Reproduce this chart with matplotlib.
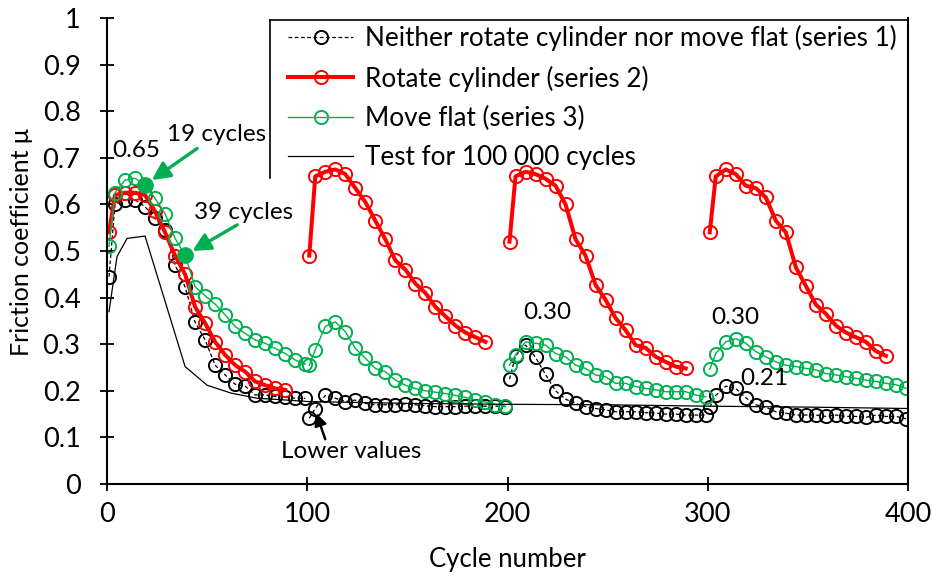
import matplotlib
matplotlib.use("Agg")
import matplotlib.pyplot as plt
import numpy as np
from matplotlib.lines import Line2D

plt.rcParams["font.family"] = ["Lato", "DejaVu Sans"]

# cycle positions inside each 100-cycle block
BLOCK_X = [1, 4, 9, 14, 19, 24, 29, 34, 39, 44, 49, 54, 59, 64, 69, 74, 79, 84, 89, 94, 99]
RED_X = BLOCK_X[:19]
BLOCK_START = [0, 100, 200, 300]

# series 1: neither rotate cylinder nor move flat
s1_blocks = [
    [0.445, 0.600, 0.610, 0.610, 0.595, 0.570, 0.545, 0.470, 0.423, 0.347, 0.309,
     0.255, 0.234, 0.214, 0.210, 0.191, 0.191, 0.188, 0.186, 0.184, 0.184],
    [0.141, 0.162, 0.190, 0.184, 0.177, 0.180, 0.173, 0.170, 0.170, 0.170, 0.172,
     0.170, 0.168, 0.166, 0.166, 0.166, 0.167, 0.167, 0.167, 0.167, 0.166],
    [0.225, 0.275, 0.298, 0.272, 0.235, 0.200, 0.182, 0.173, 0.166, 0.162, 0.159,
     0.155, 0.155, 0.155, 0.153, 0.152, 0.150, 0.150, 0.148, 0.148, 0.148],
    [0.165, 0.190, 0.210, 0.205, 0.185, 0.170, 0.165, 0.155, 0.152, 0.148, 0.148,
     0.148, 0.145, 0.148, 0.145, 0.145, 0.143, 0.148, 0.145, 0.145, 0.140],
]
# series 2: rotate cylinder
s2_blocks = [
    [0.54, 0.62, 0.625, 0.625, 0.62, 0.585, 0.54, 0.49, 0.45, 0.38, 0.345,
     0.305, 0.277, 0.255, 0.241, 0.22, 0.212, 0.205, 0.202],
    [0.49, 0.66, 0.67, 0.675, 0.665, 0.635, 0.605, 0.565, 0.525, 0.48, 0.46,
     0.43, 0.41, 0.38, 0.36, 0.34, 0.325, 0.315, 0.305],
    [0.52, 0.66, 0.67, 0.665, 0.655, 0.64, 0.60, 0.525, 0.49, 0.427, 0.395,
     0.356, 0.33, 0.298, 0.292, 0.273, 0.262, 0.252, 0.248],
    [0.54, 0.66, 0.675, 0.665, 0.64, 0.635, 0.615, 0.565, 0.54, 0.465, 0.425,
     0.385, 0.365, 0.34, 0.325, 0.315, 0.305, 0.285, 0.275],
]
# series 3: move flat
s3_blocks = [
    [0.51, 0.625, 0.652, 0.656, 0.642, 0.613, 0.58, 0.527, 0.491, 0.423, 0.404,
     0.386, 0.363, 0.338, 0.323, 0.309, 0.302, 0.291, 0.28, 0.266, 0.257],
    [0.255, 0.288, 0.338, 0.348, 0.327, 0.291, 0.27, 0.248, 0.241, 0.223, 0.212,
     0.205, 0.2, 0.197, 0.194, 0.19, 0.186, 0.18, 0.176, 0.17, 0.167],
    [0.255, 0.277, 0.305, 0.302, 0.298, 0.28, 0.273, 0.255, 0.248, 0.234, 0.23,
     0.216, 0.216, 0.209, 0.205, 0.202, 0.198, 0.198, 0.198, 0.191, 0.187],
    [0.246, 0.28, 0.305, 0.312, 0.302, 0.284, 0.273, 0.262, 0.255, 0.252, 0.248,
     0.245, 0.237, 0.234, 0.23, 0.227, 0.223, 0.22, 0.216, 0.213, 0.205],
]
# test for 100 000 cycles
test_x = [1, 5, 10, 19, 39, 50, 62, 75, 90, 100, 150, 200, 250, 300, 350, 400]
test_y = [0.37, 0.488, 0.527, 0.532, 0.252, 0.212, 0.195, 0.184, 0.18, 0.177,
          0.173, 0.171, 0.170, 0.167, 0.165, 0.162]

highlight_cycles = [19, 39]

labels = ["Neither rotate cylinder nor move flat (series 1)", "Rotate cylinder (series 2)",
          "Move flat (series 3)", "Test for 100 000 cycles"]
x_ticks = [0, 100, 200, 300, 400]
y_ticks = [0, 0.1, 0.2, 0.3, 0.4, 0.5, 0.6, 0.7, 0.8, 0.9, 1]
y_tick_labels = ["0", "0.1", "0.2", "0.3", "0.4", "0.5", "0.6", "0.7", "0.8", "0.9", "1"]

RED = "#FF0000"
GREEN = "#00B050"


def join_blocks(xs, blocks):
    """Concatenate per-block data with NaN gaps so segments are not joined."""
    X, Y = [], []
    for start, vals in zip(BLOCK_START, blocks):
        X += [start + x for x in xs] + [np.nan]
        Y += list(vals) + [np.nan]
    return np.array(X), np.array(Y)


fig = plt.figure(figsize=(9.32, 5.81), dpi=100)
ax = fig.add_axes([107 / 932, 97 / 581, 801 / 932, 466 / 581])

x1, y1 = join_blocks(BLOCK_X, s1_blocks)
x2, y2 = join_blocks(RED_X, s2_blocks)
x3, y3 = join_blocks(BLOCK_X, s3_blocks)

mk = dict(marker="o", markersize=9.5, markerfacecolor="none", markeredgewidth=1.4)
h1, = ax.plot(x1, y1, color="black", lw=0.9, ls=(0, (3, 2)), markeredgecolor="black", **mk)
h2, = ax.plot(x2, y2, color=RED, lw=2.9, markeredgecolor=RED, **mk)
h3, = ax.plot(x3, y3, color=GREEN, lw=1.0, markeredgecolor=GREEN, **mk)
h4, = ax.plot(test_x, test_y, color="black", lw=0.9)

hy = [s3_blocks[0][BLOCK_X.index(c)] for c in highlight_cycles]
ax.plot(highlight_cycles, hy, ls="none", marker="o", markersize=11, color=GREEN)

ax.set_xlim(0, 400)
ax.set_ylim(0, 1)
ax.set_xticks(x_ticks)
ax.set_yticks(y_ticks)
ax.set_yticklabels(y_tick_labels)
ax.tick_params(direction="inout", length=10, width=1.3, labelsize=19.5, pad=8)
ax.tick_params(axis="y", pad=14)
ax.spines["top"].set_visible(False)
for s in ["left", "bottom", "right"]:
    ax.spines[s].set_linewidth(1.5)
ax.set_xlabel("Cycle number", fontsize=18.5, labelpad=14)
ax.set_ylabel("Friction coefficient μ", fontsize=18)
ax.yaxis.set_label_coords(-0.092, 0.52)

# legend, its box edges drawn separately
fig.legend([h1, h2, h3, h4], labels, loc="upper left", bbox_to_anchor=(288 / 932, 1 - 25 / 581),
           frameon=False, fontsize=18.8, numpoints=1, handlelength=2.5, handletextpad=0.45,
           labelspacing=0.55, borderpad=0, borderaxespad=0)
fig.lines.append(Line2D([270 / 932, 908 / 932], [1 - 20 / 581, 1 - 20 / 581],
                        transform=fig.transFigure, color="black", lw=1.2))
fig.lines.append(Line2D([270 / 932, 270 / 932], [1 - 20 / 581, 1 - 178 / 581],
                        transform=fig.transFigure, color="black", lw=1.2))

# annotations
arrow_g = dict(arrowstyle="-|>", color=GREEN, lw=2.4, mutation_scale=27, shrinkA=0, shrinkB=6)
ax.annotate("", xy=(19, hy[0]), xytext=(45, 0.72), arrowprops=arrow_g)
ax.annotate("", xy=(39, hy[1]), xytext=(65, 0.556), arrowprops=arrow_g)
ax.text(14.5, 0.715, "0.65", fontsize=17.5, ha="center", va="center")
ax.text(54.5, 0.751, "19 cycles", fontsize=17.5, ha="center", va="center")
ax.text(68, 0.582, "39 cycles", fontsize=17.5, ha="center", va="center")
ax.text(220, 0.367, "0.30", fontsize=17.5, ha="center", va="center")
ax.text(314, 0.358, "0.30", fontsize=17.5, ha="center", va="center")
ax.text(328, 0.227, "0.21", fontsize=17.5, ha="center", va="center")
ax.text(122, 0.069, "Lower values", fontsize=17.5, ha="center", va="center")
ax.annotate("", xy=(104.5, 0.152), xytext=(109, 0.096),
            arrowprops=dict(arrowstyle="-|>", color="black", lw=1.8, mutation_scale=18,
                            shrinkA=0, shrinkB=0))

fig.savefig("out.png", dpi=100)
